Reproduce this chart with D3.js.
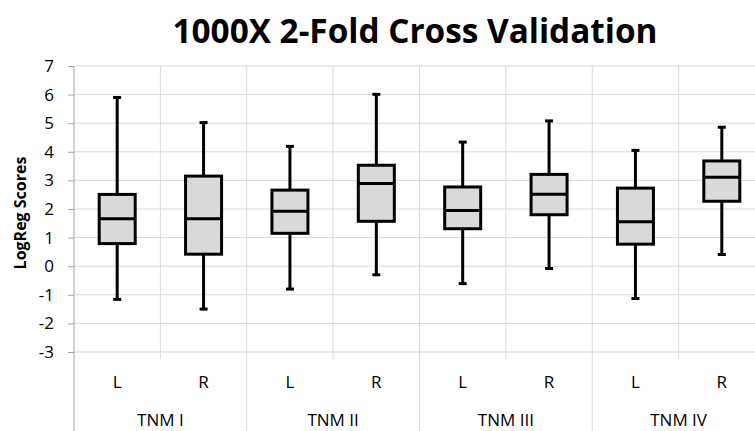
<!DOCTYPE html>
<html>
<head>
<meta charset="utf-8">
<script src="https://cdn.jsdelivr.net/npm/d3@7"></script>
<style>
  body { margin: 0; background: #fff; }
  text { font-family: "Open Sans", "Liberation Sans", sans-serif; fill: #000; }
</style>
</head>
<body>
<div id="vizDiv"></div>
<script>
var width = 755
var height = 431

// data
var groups = ["TNM I", "TNM II", "TNM III", "TNM IV"]
var sides = ["L", "R"]
var whiskerLow  = [-1.16, -1.50, -0.80, -0.30, -0.61, -0.08, -1.13, 0.41]
var q1          = [0.79, 0.42, 1.15, 1.57, 1.31, 1.80, 0.77, 2.27]
var median      = [1.66, 1.66, 1.92, 2.89, 1.95, 2.52, 1.55, 3.11]
var q3          = [2.51, 3.15, 2.66, 3.53, 2.77, 3.21, 2.73, 3.68]
var whiskerHigh = [5.90, 5.02, 4.19, 6.01, 4.34, 5.08, 4.05, 4.86]
var yTicks = [-3, -2, -1, 0, 1, 2, 3, 4, 5, 6, 7]

var plotLeft = 74, plotRight = 765, plotTop = 66, plotBottom = 352

var svg = d3.select("#vizDiv")
  .append("svg")
  .attr("width", width)
  .attr("height", height)

var cats = []
groups.forEach(function(g) {
  sides.forEach(function(s) { cats.push(g + "|" + s) })
})

var x = d3.scaleBand().domain(cats).range([plotLeft, plotRight])
var xg = d3.scaleBand().domain(groups).range([plotLeft, plotRight])
var y = d3.scaleLinear().domain([-3, 7]).range([plotBottom, plotTop])

// horizontal gridlines
svg.selectAll(".hgrid").data(yTicks).enter()
  .append("line")
  .attr("x1", plotLeft).attr("x2", width)
  .attr("y1", function(d) { return y(d) }).attr("y2", function(d) { return y(d) })
  .attr("stroke", "#d9d9d9").attr("stroke-width", 1)

// vertical gridlines between categories
svg.selectAll(".vgrid").data(cats.slice(1)).enter()
  .append("line")
  .attr("x1", function(d) { return x(d) }).attr("x2", function(d) { return x(d) })
  .attr("y1", plotTop).attr("y2", plotBottom)
  .attr("stroke", "#d9d9d9").attr("stroke-width", 1)

// category tick marks below axis (between L and R)
svg.selectAll(".ctick").data(groups).enter()
  .append("line")
  .attr("x1", function(d) { return xg(d) + xg.bandwidth() / 2 })
  .attr("x2", function(d) { return xg(d) + xg.bandwidth() / 2 })
  .attr("y1", plotBottom).attr("y2", plotBottom + 7)
  .attr("stroke", "#d9d9d9").attr("stroke-width", 1)

// group separators running to the bottom
svg.selectAll(".gsep").data(groups.slice(1)).enter()
  .append("line")
  .attr("x1", function(d) { return xg(d) }).attr("x2", function(d) { return xg(d) })
  .attr("y1", plotBottom).attr("y2", height)
  .attr("stroke", "#d9d9d9").attr("stroke-width", 1)

// y axis
var yAxis = svg.append("g")
  .attr("transform", "translate(" + plotLeft + ",0)")
  .call(d3.axisLeft(y).tickValues(yTicks).tickSize(6).tickPadding(14).tickFormat(function(d) { return String(d) }))
yAxis.select(".domain").attr("stroke", "#a6a6a6").attr("d", "M0," + plotTop + "V" + height)
yAxis.selectAll(".tick line").attr("stroke", "#a6a6a6")
yAxis.selectAll(".tick text")
  .style("font-family", "'Open Sans', sans-serif")
  .style("font-size", "17px")
  .attr("fill", "#000")

// boxes
var idx = d3.range(cats.length)
var boxW = 36, capW = 8
var box = svg.selectAll(".box").data(idx).enter().append("g")

box.append("line")
  .attr("x1", function(i) { return x(cats[i]) + x.bandwidth() / 2 })
  .attr("x2", function(i) { return x(cats[i]) + x.bandwidth() / 2 })
  .attr("y1", function(i) { return y(whiskerLow[i]) })
  .attr("y2", function(i) { return y(whiskerHigh[i]) })
  .attr("stroke", "#000").attr("stroke-width", 3)

box.selectAll(".cap").data(function(i) { return [[i, whiskerLow[i]], [i, whiskerHigh[i]]] }).enter()
  .append("line")
  .attr("x1", function(d) { return x(cats[d[0]]) + x.bandwidth() / 2 - capW / 2 })
  .attr("x2", function(d) { return x(cats[d[0]]) + x.bandwidth() / 2 + capW / 2 })
  .attr("y1", function(d) { return y(d[1]) })
  .attr("y2", function(d) { return y(d[1]) })
  .attr("stroke", "#000").attr("stroke-width", 3)

box.append("rect")
  .attr("x", function(i) { return x(cats[i]) + x.bandwidth() / 2 - boxW / 2 })
  .attr("width", boxW)
  .attr("y", function(i) { return y(q3[i]) })
  .attr("height", function(i) { return y(q1[i]) - y(q3[i]) })
  .attr("fill", "#d9d9d9").attr("stroke", "#000").attr("stroke-width", 3)

box.append("line")
  .attr("x1", function(i) { return x(cats[i]) + x.bandwidth() / 2 - boxW / 2 })
  .attr("x2", function(i) { return x(cats[i]) + x.bandwidth() / 2 + boxW / 2 })
  .attr("y1", function(i) { return y(median[i]) })
  .attr("y2", function(i) { return y(median[i]) })
  .attr("stroke", "#000").attr("stroke-width", 3)

// category labels
svg.selectAll(".sideLabel").data(cats).enter()
  .append("text")
  .attr("x", function(d) { return x(d) + x.bandwidth() / 2 })
  .attr("y", 388)
  .attr("text-anchor", "middle")
  .style("font-size", "17px")
  .text(function(d) { return d.split("|")[1] })

svg.selectAll(".groupLabel").data(groups).enter()
  .append("text")
  .attr("x", function(d) { return xg(d) + xg.bandwidth() / 2 })
  .attr("y", 426)
  .attr("text-anchor", "middle")
  .style("font-size", "17px")
  .text(function(d) { return d })

// y title
svg.append("text")
  .attr("transform", "translate(26,213) rotate(-90)")
  .attr("text-anchor", "middle")
  .style("font-size", "16px")
  .style("font-weight", "bold")
  .text("LogReg Scores")

// chart title
svg.append("text")
  .attr("x", 415)
  .attr("y", 43)
  .attr("text-anchor", "middle")
  .attr("textLength", 485)
  .attr("lengthAdjust", "spacingAndGlyphs")
  .style("font-size", "34px")
  .style("font-weight", "bold")
  .text("1000X 2-Fold Cross Validation")
</script>
</body>
</html>
